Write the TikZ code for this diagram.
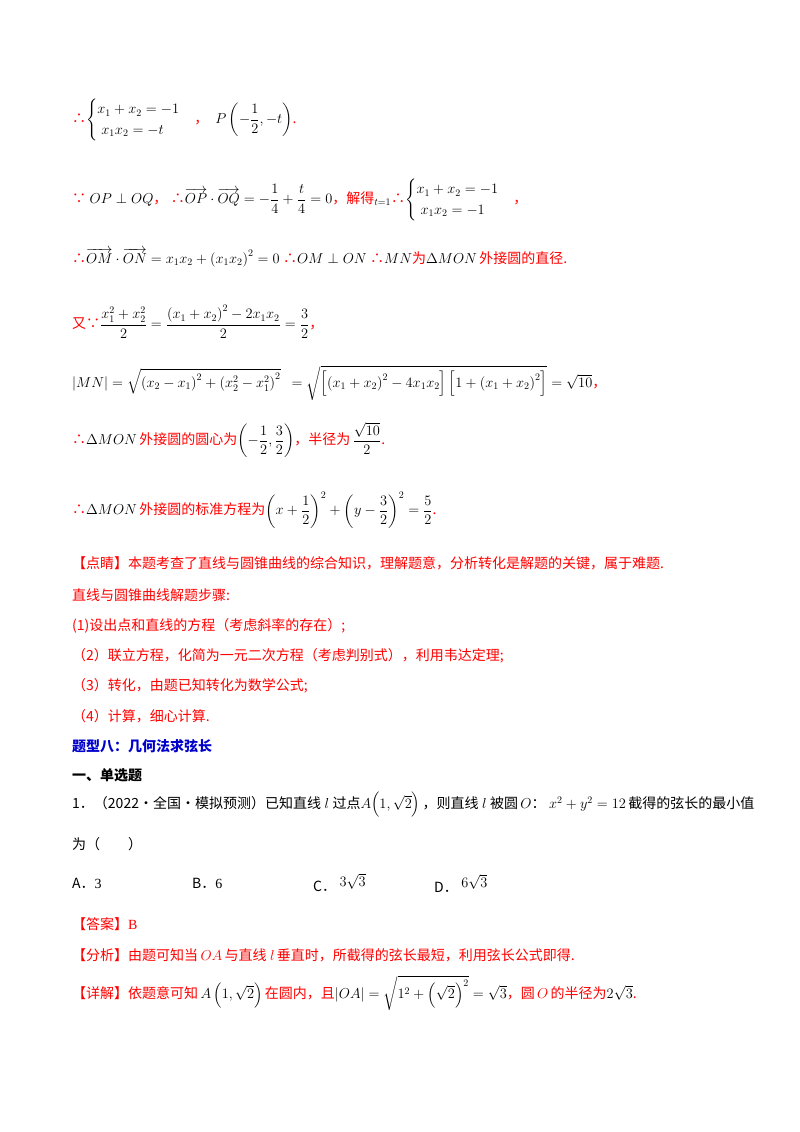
\documentclass[tikz,border=0pt]{standalone}
\usepackage{amsmath,amssymb}
\usepackage{fontspec}
\setmainfont{Liberation Serif}
\newfontfamily\cjk{Noto Sans CJK SC}
\definecolor{rd}{HTML}{FF0000}
\definecolor{bl}{HTML}{0000CC}
\newcommand{\R}[1]{\textcolor{rd}{\cjk #1}}
\begin{document}
\begin{tikzpicture}[x=1pt,y=-1pt,every node/.style={anchor=west,inner sep=0pt,font=\fontsize{14}{17}\selectfont}]
\useasboundingbox (0,0) rectangle (800,1132);
\node (l1) at (72,120) {\R{∴}$\begin{cases} x_1+x_2=-1\\ \;x_1x_2=-t\end{cases}$\R{，}\ \ $P\left(-\dfrac12,-t\right)$\R{.}};
\node (l2) at (72,200) {\R{∵} $OP\perp OQ$\R{，} \R{∴}$\overrightarrow{OP}\cdot\overrightarrow{OQ}=-\dfrac14+\dfrac t4=0$\R{，解得}$_{t=1}$\R{∴}$\begin{cases} x_1+x_2=-1\\ \;x_1x_2=-1\end{cases}$\R{，}};
\node (l3) at (72,258) {\R{∴}$\overrightarrow{OM}\cdot\overrightarrow{ON}=x_1x_2+\left(x_1x_2\right)^2=0$\ \R{∴}$OM\perp ON$\ \R{∴}$MN$\R{为}$\Delta MON$\,\R{外接圆的直径.}};
\node (l4) at (72,322) {\R{又∵}$\dfrac{x_1^2+x_2^2}{2}=\dfrac{\left(x_1+x_2\right)^2-2x_1x_2}{2}=\dfrac32$\R{，}};
\node (l5) at (72,383) {$\left|MN\right|=\sqrt{\left(x_2-x_1\right)^2+\left(x_2^2-x_1^2\right)^2}\ \ =\sqrt{\left[\left(x_1+x_2\right)^2-4x_1x_2\right]\left[1+\left(x_1+x_2\right)^2\right]}=\sqrt{10}$\R{，}};
\node (l6) at (72,440) {\R{∴}$\Delta MON$\,\R{外接圆的圆心为}$\left(-\dfrac12,\dfrac32\right)$\R{，半径为}\,$\dfrac{\sqrt{10}}{2}$\R{.}};
\node (l7) at (72,510) {\R{∴}$\Delta MON$\,\R{外接圆的标准方程为}$\left(x+\dfrac12\right)^2+\left(y-\dfrac32\right)^2=\dfrac52$\R{.}};
\node (l8) at (72,563) {\R{【点睛】本题考查了直线与圆锥曲线的综合知识，理解题意，分析转化是解题的关键，属于难题.}};
\node (l9) at (72,595) {\R{直线与圆锥曲线解题步骤:}};
\node (l10) at (72,626) {\R{(1)设出点和直线的方程（考虑斜率的存在）;}};
\node (l11) at (72,656) {\R{（2）联立方程，化简为一元二次方程（考虑判别式），利用韦达定理;}};
\node (l12) at (72,686) {\R{（3）转化，由题已知转化为数学公式;}};
\node (l13) at (72,716) {\R{（4）计算，细心计算.}};
\node (l14) at (72,746) {\textcolor{bl}{\cjk\bfseries 题型八：几何法求弦长}};
\node (l15) at (72,775) {{\cjk\bfseries 一、单选题}};
\node (l16) at (72,805) {{\cjk 1．（2022·全国·模拟预测）已知直线}\ $l$\ {\cjk 过点}$A\!\left(1,\sqrt2\right)$\,{\cjk ，则直线}\ $l$\ {\cjk 被圆}\,$O${\cjk ：}\ $x^2+y^2=12$\,{\cjk 截得的弦长的最小值}};
\node (l17) at (72,844) {{\cjk 为（\qquad）}};
\node (a) at (72,883) {{\cjk A．}3};
\node (b) at (192,883) {{\cjk B．}6};
\node (c) at (313,883) {{\cjk C．}\ \raisebox{5pt}{$3\sqrt3$}};
\node (d) at (434,883) {{\cjk D．}\ \raisebox{5pt}{$6\sqrt3$}};
\node (l18) at (72,924) {\R{【答案】}\textcolor{rd}{B}};
\node (l19) at (72,955) {\R{【分析】由题可知当}\,\textcolor{rd}{$OA$}\,\R{与直线}\ \textcolor{rd}{$l$}\,\R{垂直时，所截得的弦长最短，利用弦长公式即得.}};
\node (l20) at (72,993) {\R{【详解】依题意可知}\,$A\left(1,\sqrt2\right)$\,\R{在圆内，且}$\left|OA\right|=\sqrt{1^2+\left(\sqrt2\right)^2}=\sqrt3$\R{，圆}\,\textcolor{rd}{$O$}\,\R{的半径为}$2\sqrt3$\R{.}};
\end{tikzpicture}
\end{document}
